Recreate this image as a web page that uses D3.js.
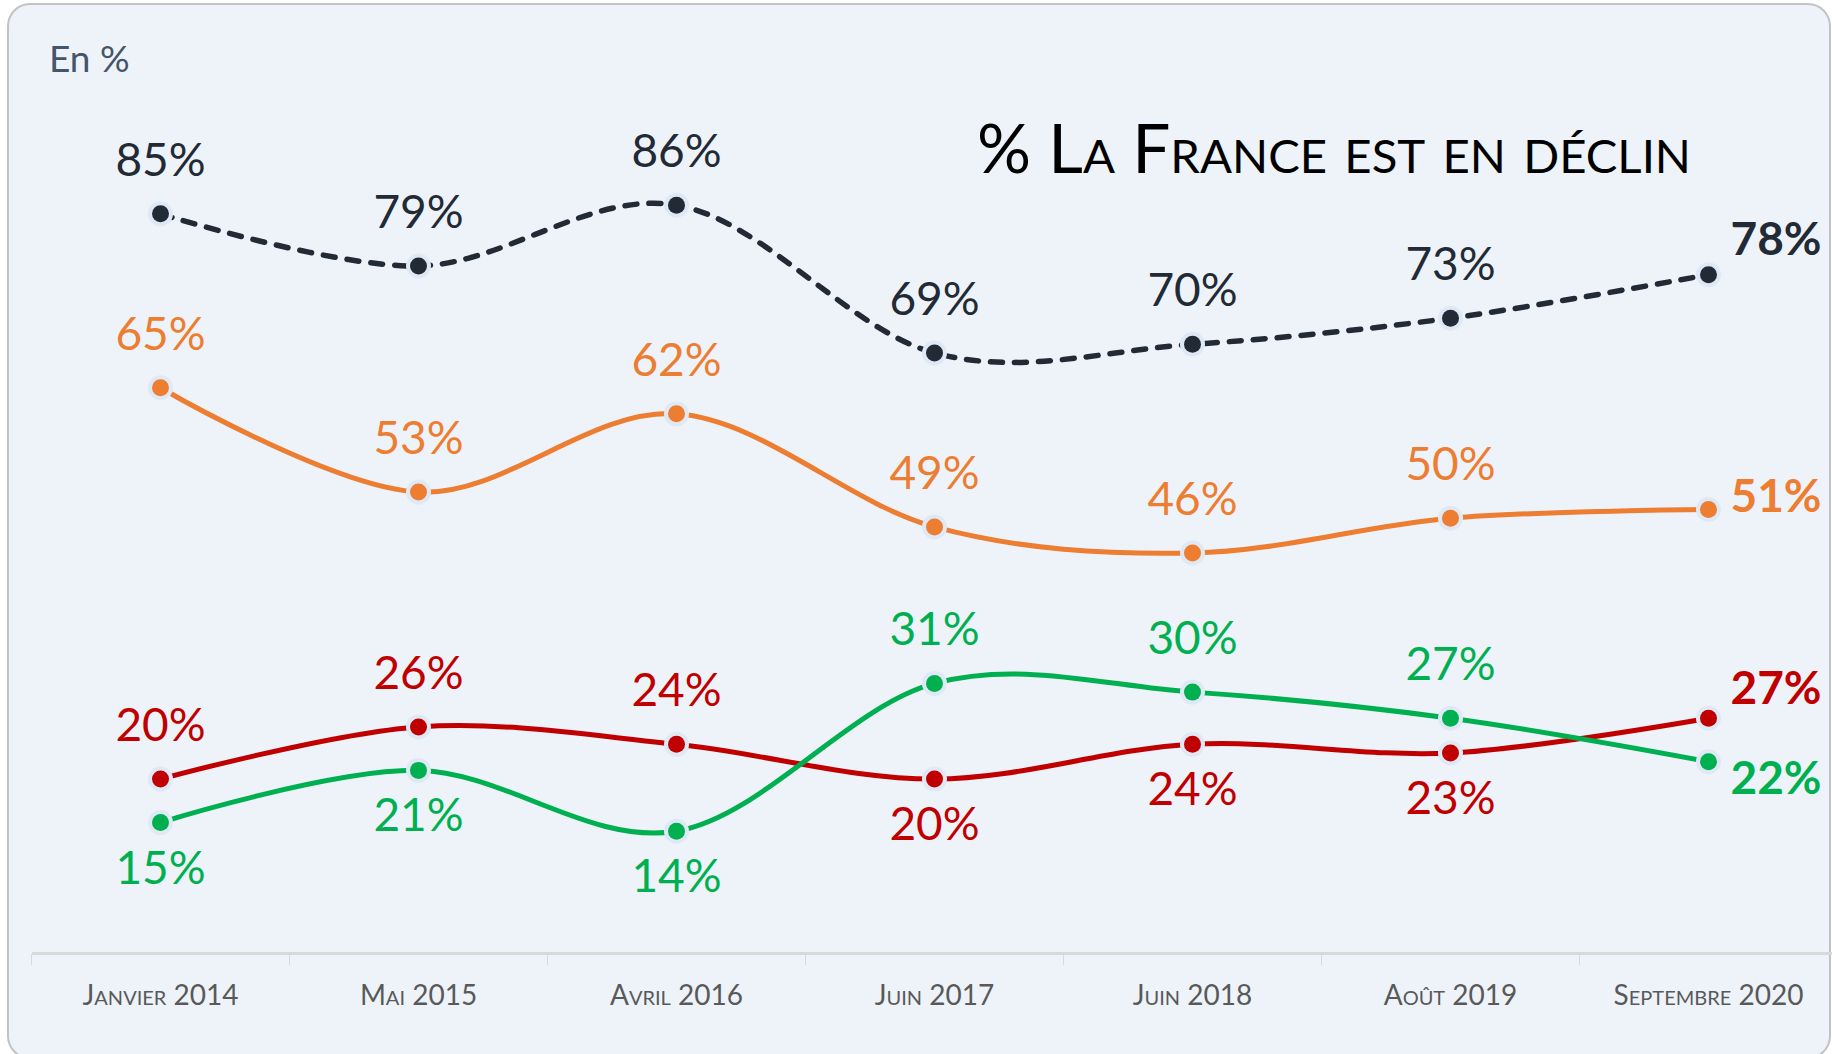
<!DOCTYPE html>
<html>
<head>
<meta charset="utf-8">
<script src="https://cdn.jsdelivr.net/npm/d3@7"></script>
<style>
  body { margin: 0; background: #ffffff; }
  svg { display: block; font-family: Lato, "Open Sans", sans-serif; }
</style>
</head>
<body>
<div id="chart"></div>
<script>
// Categories along the x axis
const periods = ["Janvier 2014", "Mai 2015", "Avril 2016", "Juin 2017", "Juin 2018", "Août 2019", "Septembre 2020"];

// Series values, in %
const declin = [85, 79, 86, 69, 70, 73, 78];
const orangeSerie = [65, 53, 62, 49, 46, 50, 51];
const redSerie = [20, 26, 24, 20, 24, 23, 27];
const greenSerie = [15, 21, 14, 31, 30, 27, 22];

const titleText = "% La France est en déclin";
const unitText = "En %";

const width = 1832, height = 1054;

// style per series (drawing order = array order)
const series = [
  { values: declin, color: "#222a35", dash: "12 12", lastDy: -20 },
  { values: orangeSerie, color: "#ed7d31", dash: null, lastDy: 2 },
  { values: redSerie, color: "#c00000", dash: null, lastDy: -14, partner: greenSerie },
  { values: greenSerie, color: "#00b050", dash: null, lastDy: 32, partner: redSerie }
];

const svg = d3.select("#chart")
  .append("svg")
    .attr("width", width)
    .attr("height", height);

// card background
svg.append("rect")
  .attr("x", 8).attr("y", 4)
  .attr("width", 1822).attr("height", 1054)
  .attr("rx", 22)
  .attr("fill", "#eef3fa")
  .attr("stroke", "#c3c3c3")
  .attr("stroke-width", 2);

const x = d3.scaleBand()
  .domain(periods)
  .range([31.5, 31.5 + 258 * periods.length])
  .padding(0);

const y = d3.scaleLinear()
  .domain([0, 100])
  .range([953, 83.4]);

const cx = d => x(d) + x.bandwidth() / 2;

// x axis: labels at band centres
const axis = svg.append("g")
  .attr("transform", "translate(0,953)")
  .call(d3.axisBottom(x).tickSize(0).tickSizeOuter(0));
axis.select(".domain")
  .attr("stroke", "#d9d9d9")
  .attr("stroke-width", 3);
axis.selectAll(".tick text")
  .attr("y", 52)
  .attr("dy", 0)
  .attr("fill", "#595959")
  .style("font-family", "Lato, sans-serif")
  .style("font-size", "28px")
  .style("font-variant", "small-caps");

// boundary ticks between categories
svg.append("g")
  .selectAll("line")
  .data(periods)
  .join("line")
    .attr("x1", d => x(d)).attr("x2", d => x(d))
    .attr("y1", 954).attr("y2", 965)
    .attr("stroke", "#d9d9d9")
    .attr("stroke-width", 1);

// unit + title
svg.append("text")
  .attr("x", 49).attr("y", 72)
  .attr("fill", "#44546a")
  .style("font-size", "37px")
  .text(unitText);

svg.append("text")
  .attr("x", 977).attr("y", 173)
  .attr("fill", "#000000")
  .attr("textLength", 714)
  .attr("lengthAdjust", "spacingAndGlyphs")
  .style("font-size", "67px")
  .style("font-variant", "small-caps")
  .text(titleText);

const line = d3.line()
  .x((d, i) => cx(periods[i]))
  .y(d => y(d))
  .curve(d3.curveCardinal.tension(0));

const last = periods.length - 1;

series.forEach(s => {
  const g = svg.append("g");

  g.append("path")
    .datum(s.values)
    .attr("d", line)
    .attr("fill", "none")
    .attr("stroke", s.color)
    .attr("stroke-width", s.dash ? 5.5 : 5)
    .attr("stroke-linecap", "round")
    .attr("stroke-dasharray", s.dash);

  // markers with light halo
  g.selectAll("circle.halo")
    .data(s.values)
    .join("circle")
      .attr("class", "halo")
      .attr("cx", (d, i) => cx(periods[i]))
      .attr("cy", d => y(d))
      .attr("r", 12.5)
      .attr("fill", "#dfe9f5");
  g.selectAll("circle.dot")
    .data(s.values)
    .join("circle")
      .attr("class", "dot")
      .attr("cx", (d, i) => cx(periods[i]))
      .attr("cy", d => y(d))
      .attr("r", 8.5)
      .attr("fill", s.color);

  // value labels
  g.selectAll("text")
    .data(s.values)
    .join("text")
      .attr("x", (d, i) => i === last ? cx(periods[i]) + 22 : cx(periods[i]))
      .attr("y", (d, i) => {
        if (i === last) return y(d) + s.lastDy;
        const below = s.partner && d < s.partner[i];
        return below ? y(d) + 61 : y(d) - 38;
      })
      .attr("text-anchor", (d, i) => i === last ? "start" : "middle")
      .attr("fill", s.color)
      .style("font-size", "46px")
      .style("font-weight", (d, i) => i === last ? "bold" : "normal")
      .text(d => d + "%");
});
</script>
</body>
</html>
